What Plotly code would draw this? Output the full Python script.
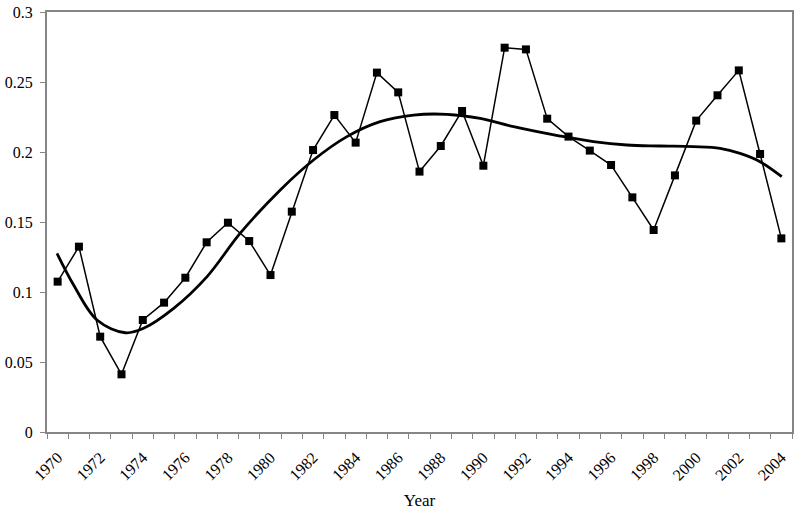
import plotly.graph_objects as go

years = list(range(1970, 2005))
values = [0.1074, 0.1324, 0.0681, 0.0412, 0.0800, 0.0924, 0.1102, 0.1355, 0.1495, 0.1364,
          0.1121, 0.1574, 0.2014, 0.2264, 0.2067, 0.2567, 0.2426, 0.1860, 0.2043, 0.2293,
          0.1902, 0.2745, 0.2733, 0.2238, 0.2110, 0.2010, 0.1907, 0.1676, 0.1443, 0.1833,
          0.2224, 0.2405, 0.2583, 0.1986, 0.1383]

trend_x = [1969.97, 1970.75, 1971.85, 1973.18, 1974.04, 1975.45, 1977.02, 1978.58, 1980.46,
           1982.02, 1983.59, 1985.15, 1986.72, 1988.29, 1989.85, 1991.42, 1993.61, 1995.17,
           1996.74, 1998.30, 1999.87, 2001.12, 2002.06, 2003.00, 2004.02]
trend_y = [0.1276, 0.105, 0.080, 0.0709, 0.0741, 0.0883, 0.111, 0.142, 0.1729,
           0.1943, 0.211, 0.2217, 0.2264, 0.2269, 0.2240, 0.2181, 0.2114, 0.2074,
           0.205, 0.2043, 0.2038, 0.2026, 0.199, 0.1931, 0.1824]

tick_years = list(range(1970, 2005, 2))
y_ticks = [0, 0.05, 0.1, 0.15, 0.2, 0.25, 0.3]
y_labels = ["0", "0.05", "0.1", "0.15", "0.2", "0.25", "0.3"]

font = "Liberation Serif, Times New Roman, serif"
axis_col = "#858585"

fig = go.Figure()
fig.add_trace(go.Scatter(x=years, y=values, mode="lines+markers",
                         line=dict(color="black", width=1.5),
                         marker=dict(symbol="square", size=8, color="black"),
                         showlegend=False))
fig.add_trace(go.Scatter(x=trend_x, y=trend_y, mode="lines",
                         line=dict(color="black", width=2.8, shape="spline", smoothing=1.0),
                         showlegend=False))

fig.update_layout(
    width=800, height=513,
    margin=dict(l=47, r=8, t=12, b=81),
    paper_bgcolor="white", plot_bgcolor="white",
    font=dict(family=font, size=16, color="black"),
    xaxis=dict(range=[1969.5, 2004.5], tickvals=tick_years, ticktext=[str(y) for y in tick_years],
               tickangle=-45, ticks="", showgrid=False, zeroline=False, automargin=False,
               showline=True, linecolor=axis_col, linewidth=2, mirror=True,
               ticklabelstandoff=8,
               minor=dict(tick0=1969.5, dtick=1, ticks="outside", ticklen=5,
                          tickcolor=axis_col, tickwidth=1, showgrid=False),
               title=dict(text="Year", font=dict(size=17), standoff=11)),
    yaxis=dict(range=[0, 0.3], tickvals=y_ticks, ticktext=y_labels,
               ticks="outside", ticklen=5, tickcolor=axis_col, tickwidth=1,
               showgrid=False, zeroline=False, automargin=False,
               showline=True, linecolor=axis_col, linewidth=2, mirror=True,
               ticklabelstandoff=4),
)

fig.write_html("out.html", config={"displayModeBar": False},
               post_script="document.body.style.margin='0';document.body.style.overflow='hidden';")
